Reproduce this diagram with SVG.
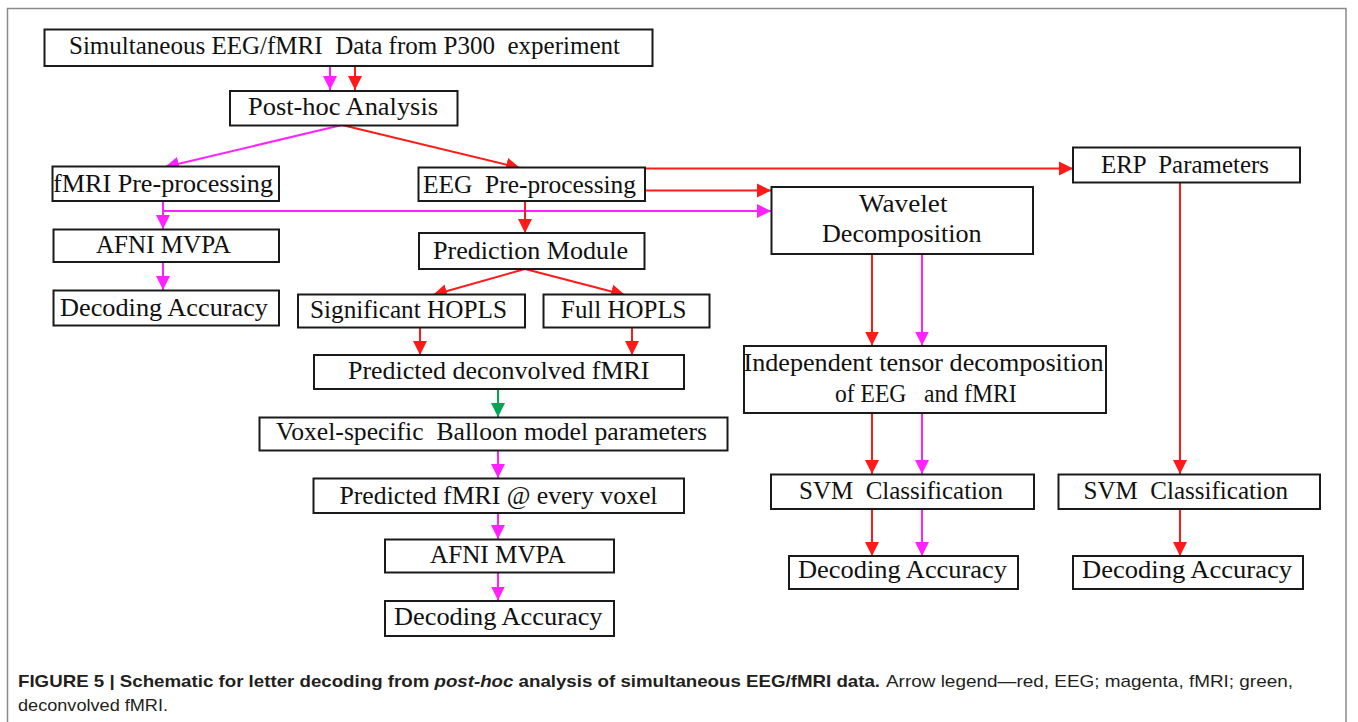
<svg xmlns="http://www.w3.org/2000/svg" width="1358" height="722" viewBox="0 0 1358 722">
<style>
.box{fill:#fff;stroke:#1a1a1a;stroke-width:2}
.t{font-family:"Liberation Serif","Times New Roman",serif;font-size:25px;fill:#111}
.r{stroke:#ff1a1a;stroke-width:2;fill:none;marker-end:url(#ar)}
.m{stroke:#ff22ff;stroke-width:2;fill:none;marker-end:url(#am)}
.g{stroke:#00a651;stroke-width:2;fill:none;marker-end:url(#ag)}
.cap{font-family:"Liberation Sans",Arial,sans-serif;font-size:17px;fill:#231f20}
</style>
<defs>
<marker id="ar" markerUnits="userSpaceOnUse" markerWidth="15" markerHeight="15" refX="14" refY="7.5" orient="auto"><path d="M0,0.5 L14,7.5 L0,14.5 z" fill="#ff1a1a"/></marker>
<marker id="am" markerUnits="userSpaceOnUse" markerWidth="15" markerHeight="15" refX="14" refY="7.5" orient="auto"><path d="M0,0.5 L14,7.5 L0,14.5 z" fill="#ff22ff"/></marker>
<marker id="ag" markerUnits="userSpaceOnUse" markerWidth="15" markerHeight="15" refX="14" refY="7.5" orient="auto"><path d="M0,0.5 L14,7.5 L0,14.5 z" fill="#00a651"/></marker>
</defs>
<rect x="0" y="0" width="1358" height="722" fill="#fff"/>
<path d="M7.5,730 V8.5 H1346 V730" fill="none" stroke="#8a8a8a" stroke-width="1.5"/>

<g id="connectors">
<line class="m" x1="330" y1="66" x2="330" y2="90"/>
<line class="r" x1="355" y1="66" x2="355" y2="90"/>
<line class="m" x1="342" y1="125" x2="165" y2="167"/>
<line class="r" x1="342" y1="125" x2="520" y2="168"/>
<line class="m" x1="163" y1="201" x2="163" y2="229"/>
<line class="m" x1="163" y1="211" x2="771" y2="211"/>
<line class="r" x1="645" y1="168.5" x2="1073" y2="168.5"/>
<line class="r" x1="645" y1="190.5" x2="771" y2="190.5"/>
<line class="r" x1="525" y1="201" x2="525" y2="233"/>
<line class="m" x1="163" y1="262" x2="163" y2="290"/>
<line class="r" x1="525" y1="269" x2="433" y2="295"/>
<line class="r" x1="525" y1="269" x2="625" y2="295"/>
<line class="r" x1="420" y1="328" x2="420" y2="355"/>
<line class="r" x1="632" y1="328" x2="632" y2="355"/>
<line class="g" x1="498" y1="389" x2="498" y2="417"/>
<line class="m" x1="498" y1="450.5" x2="498" y2="478"/>
<line class="m" x1="498" y1="513" x2="498" y2="539"/>
<line class="m" x1="498" y1="573" x2="498" y2="600.5"/>
<line class="r" x1="872" y1="254" x2="872" y2="345.5"/>
<line class="m" x1="922" y1="254" x2="922" y2="345.5"/>
<line class="r" x1="872" y1="413" x2="872" y2="474"/>
<line class="m" x1="922" y1="413" x2="922" y2="474"/>
<line class="r" x1="872" y1="509" x2="872" y2="556"/>
<line class="m" x1="922" y1="509" x2="922" y2="556"/>
<line class="r" x1="1180" y1="183" x2="1180" y2="474"/>
<line class="r" x1="1180" y1="509" x2="1180" y2="556"/>
</g>

<g id="n-source"><rect class="box" x="44.5" y="29.5" width="608" height="36.5"/>
<text class="t" x="69" y="54" textLength="551" lengthAdjust="spacingAndGlyphs" xml:space="preserve">Simultaneous EEG/fMRI  Data from P300  experiment</text></g>
<g id="n-posthoc"><rect class="box" x="230" y="91" width="227.5" height="34.5"/>
<text class="t" x="248" y="115" textLength="190" lengthAdjust="spacingAndGlyphs">Post-hoc Analysis</text></g>
<g id="n-fmripre"><rect class="box" x="52.5" y="166.5" width="226.5" height="34.5"/>
<text class="t" x="53" y="192" textLength="220" lengthAdjust="spacingAndGlyphs">fMRI Pre-processing</text></g>
<g id="n-eegpre"><rect class="box" x="418.5" y="167.5" width="226.5" height="33.5"/>
<text class="t" x="423" y="193" textLength="213" lengthAdjust="spacingAndGlyphs" xml:space="preserve">EEG  Pre-processing</text></g>
<g id="n-erp"><rect class="box" x="1073" y="147.5" width="227" height="35"/>
<text class="t" x="1101" y="173" textLength="168" lengthAdjust="spacingAndGlyphs" xml:space="preserve">ERP  Parameters</text></g>
<g id="n-wavelet"><rect class="box" x="771.5" y="187" width="261.5" height="67"/>
<text class="t" x="859" y="212" textLength="88.5" lengthAdjust="spacingAndGlyphs">Wavelet</text>
<text class="t" x="822" y="242" textLength="159.5" lengthAdjust="spacingAndGlyphs">Decomposition</text></g>
<g id="n-afni1"><rect class="box" x="53.5" y="229.5" width="225.5" height="32.5"/>
<text class="t" x="96" y="253" textLength="135" lengthAdjust="spacingAndGlyphs">AFNI MVPA</text></g>
<g id="n-predmod"><rect class="box" x="419" y="233" width="225.5" height="36"/>
<text class="t" x="433" y="258.5" textLength="195" lengthAdjust="spacingAndGlyphs">Prediction Module</text></g>
<g id="n-dec1"><rect class="box" x="53.5" y="290.5" width="225.5" height="35"/>
<text class="t" x="60" y="315.5" textLength="208" lengthAdjust="spacingAndGlyphs">Decoding Accuracy</text></g>
<g id="n-sighopls"><rect class="box" x="298" y="294.5" width="227" height="33"/>
<text class="t" x="310" y="317.5" textLength="197" lengthAdjust="spacingAndGlyphs">Significant HOPLS</text></g>
<g id="n-fullhopls"><rect class="box" x="543.5" y="294.5" width="166" height="33"/>
<text class="t" x="561" y="317.5" textLength="125.5" lengthAdjust="spacingAndGlyphs">Full HOPLS</text></g>
<g id="n-preddeconv"><rect class="box" x="314" y="355" width="370" height="34"/>
<text class="t" x="348" y="379" textLength="301.5" lengthAdjust="spacingAndGlyphs">Predicted deconvolved fMRI</text></g>
<g id="n-voxel"><rect class="box" x="259.5" y="417.5" width="468" height="33"/>
<text class="t" x="276" y="440" textLength="431" lengthAdjust="spacingAndGlyphs" xml:space="preserve">Voxel-specific  Balloon model parameters</text></g>
<g id="n-predfmri"><rect class="box" x="313.5" y="478.5" width="370.5" height="34.5"/>
<text class="t" x="339.5" y="503.5" textLength="318" lengthAdjust="spacingAndGlyphs">Predicted fMRI @ every voxel</text></g>
<g id="n-afni2"><rect class="box" x="385" y="539.5" width="229" height="33"/>
<text class="t" x="430" y="563" textLength="135.5" lengthAdjust="spacingAndGlyphs">AFNI MVPA</text></g>
<g id="n-dec2"><rect class="box" x="385" y="601" width="229" height="35"/>
<text class="t" x="394" y="625" textLength="208.5" lengthAdjust="spacingAndGlyphs">Decoding Accuracy</text></g>
<g id="n-itd"><rect class="box" x="744" y="346" width="362" height="67"/>
<text class="t" x="743.5" y="371" textLength="360" lengthAdjust="spacingAndGlyphs">Independent tensor decomposition</text>
<text class="t" x="835" y="401.5" textLength="181.5" lengthAdjust="spacingAndGlyphs" xml:space="preserve">of EEG   and fMRI</text></g>
<g id="n-svm1"><rect class="box" x="771" y="474.5" width="263" height="34.5"/>
<text class="t" x="799" y="498.5" textLength="204" lengthAdjust="spacingAndGlyphs" xml:space="preserve">SVM  Classification</text></g>
<g id="n-svm2"><rect class="box" x="1058.5" y="474.5" width="261.5" height="34.5"/>
<text class="t" x="1083.5" y="498.5" textLength="204.5" lengthAdjust="spacingAndGlyphs" xml:space="preserve">SVM  Classification</text></g>
<g id="n-dec3"><rect class="box" x="789" y="556" width="229" height="33"/>
<text class="t" x="798" y="578" textLength="209" lengthAdjust="spacingAndGlyphs">Decoding Accuracy</text></g>
<g id="n-dec4"><rect class="box" x="1073" y="556" width="230" height="33"/>
<text class="t" x="1082" y="578" textLength="210" lengthAdjust="spacingAndGlyphs">Decoding Accuracy</text></g>

<g id="caption">
<text class="cap" x="18" y="687" font-weight="bold" textLength="862" lengthAdjust="spacingAndGlyphs">FIGURE 5 | Schematic for letter decoding from <tspan font-style="italic">post-hoc</tspan> analysis of simultaneous EEG/fMRI data.</text>
<text class="cap" x="886" y="687" textLength="407" lengthAdjust="spacingAndGlyphs" fill="#333">Arrow legend—red, EEG; magenta, fMRI; green,</text>
<text class="cap" x="18" y="711" textLength="150" lengthAdjust="spacingAndGlyphs" fill="#333">deconvolved fMRI.</text>
</g>
</svg>
